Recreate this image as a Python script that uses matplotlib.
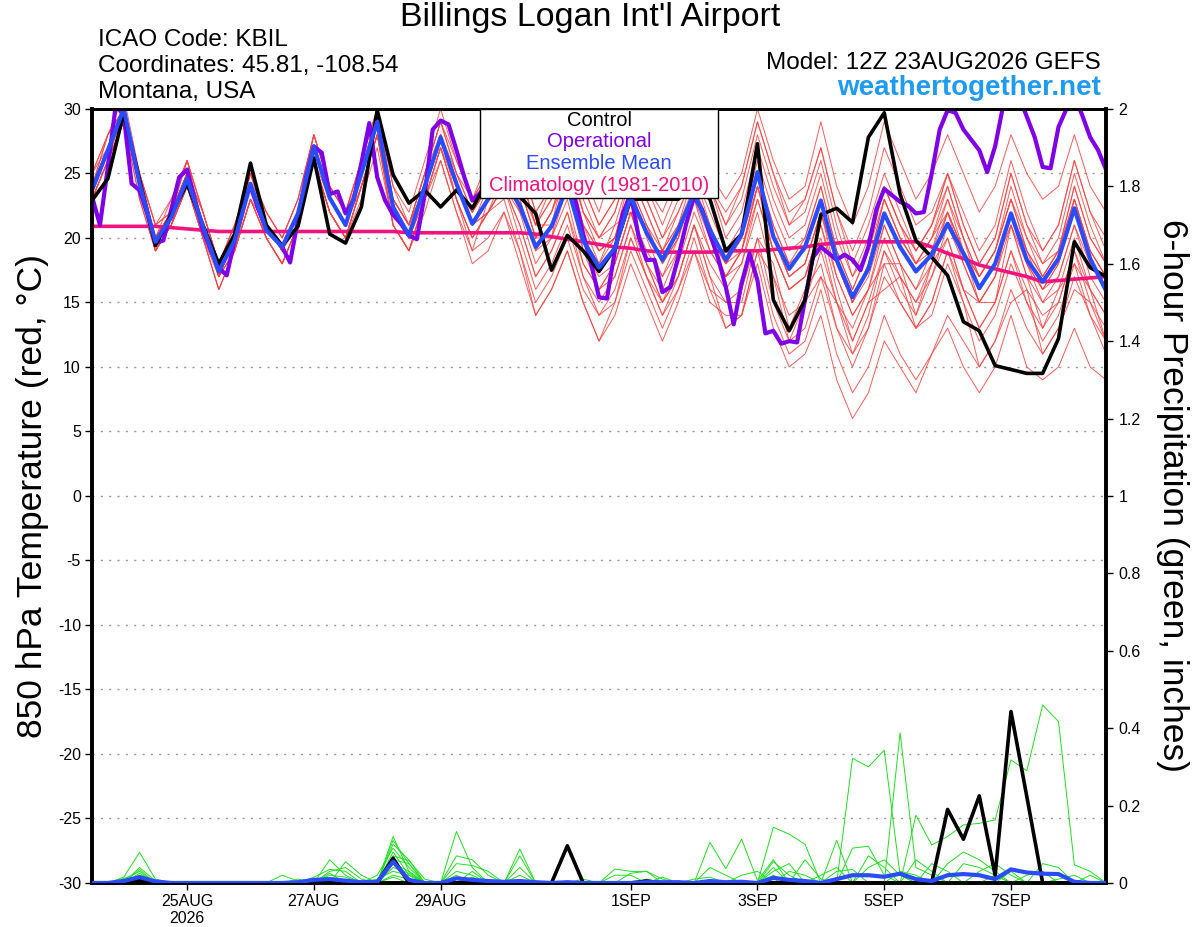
import datetime as dt
import numpy as np
import matplotlib
matplotlib.use('Agg')
import matplotlib.pyplot as plt
from matplotlib.patches import Rectangle

plt.rcParams['font.family'] = ['Liberation Sans', 'DejaVu Sans']
plt.rcParams['axes.unicode_minus'] = False

# 6-hourly steps from 12Z 23AUG2026 (65 steps), operational is 3-hourly (129 steps)
start = dt.datetime(2026, 8, 23, 12)
times = [start + dt.timedelta(hours=6 * i) for i in range(65)]
times_op = [start + dt.timedelta(hours=3 * j) for j in range(129)]

control_t = [22.9, 24.6, 29.7, 24.5, 19.4, 21.8, 24.2, 21.0, 18.0, 20.3, 25.8, 21.0, 19.4, 20.9, 26.2, 20.3,
             19.6, 22.4, 29.9, 24.9, 22.7, 23.7, 22.4, 23.7, 22.3, 24.5, 25.0, 23.2, 21.9, 17.5, 20.2, 19.0,
             17.4, 19.2, 23.0, 23.0, 23.0, 23.0, 24.0, 23.0, 19.0, 20.3, 27.3, 15.2, 12.8, 15.2, 21.8, 22.3,
             21.2, 27.8, 29.7, 23.4, 19.8, 18.5, 17.1, 13.5, 12.8, 10.1, 9.8, 9.5, 9.5, 12.2, 19.7, 17.7,
             17.0]
mean_t = [23.7, 26.8, 30.0, 24.2, 19.7, 21.6, 24.6, 20.9, 17.4, 19.8, 24.2, 20.6, 19.3, 21.9, 27.1, 23.1,
          21.0, 25.0, 29.0, 22.4, 20.2, 24.0, 27.8, 24.2, 21.1, 23.0, 24.5, 22.5, 19.3, 20.9, 24.0, 19.8,
          17.7, 19.2, 23.2, 20.4, 18.3, 20.6, 23.5, 20.6, 18.3, 20.3, 25.1, 20.1, 17.6, 19.3, 22.9, 18.3,
          15.4, 17.6, 21.9, 19.3, 17.4, 18.7, 21.1, 18.8, 16.1, 18.0, 21.9, 18.3, 16.6, 18.4, 22.3, 18.4,
          15.9]
clim_t = [20.9, 20.9, 20.9, 20.9, 20.9, 20.8, 20.7, 20.6, 20.5, 20.5, 20.5, 20.5, 20.5, 20.5, 20.5, 20.5,
          20.5, 20.5, 20.5, 20.5, 20.4, 20.4, 20.4, 20.4, 20.4, 20.4, 20.4, 20.4, 20.3, 20.1, 19.9, 19.7,
          19.5, 19.3, 19.2, 19.0, 18.9, 18.9, 18.9, 18.9, 19.0, 19.0, 19.0, 19.1, 19.2, 19.3, 19.5, 19.6,
          19.7, 19.7, 19.7, 19.7, 19.7, 19.3, 18.8, 18.4, 17.9, 17.6, 17.3, 17.0, 16.6, 16.7, 16.8, 16.9,
          17.0]
oper_t = [23.2, 21.0, 25.5, 30.3, 29.5, 24.2, 23.7, 21.8, 19.6, 19.8, 22.2, 24.7, 25.3, 22.9, 20.6, 19.0,
          17.7, 17.1, 19.8, 22.7, 24.0, 22.2, 20.7, 20.1, 19.3, 18.1, 21.4, 24.7, 27.1, 26.6, 23.4, 23.6,
          21.9, 22.9, 25.8, 28.9, 24.7, 22.9, 21.8, 21.1, 20.2, 19.9, 23.4, 28.4, 29.1, 28.8, 26.8, 24.7,
          22.9, 23.5, 24.5, 25.5, 26.5, 26.0, 25.0, 24.5, 24.0, 24.5, 25.5, 26.0, 25.0, 22.9, 20.3, 18.0,
          15.4, 15.3, 19.0, 21.9, 23.4, 20.1, 18.3, 18.3, 15.8, 16.2, 18.5, 21.1, 23.2, 22.2, 20.3, 18.5,
          16.2, 13.3, 16.5, 18.8, 16.7, 12.6, 12.8, 11.8, 12.0, 11.9, 15.2, 18.5, 19.3, 18.8, 18.3, 18.7,
          18.3, 17.5, 19.3, 22.2, 23.8, 23.3, 22.8, 22.5, 21.9, 22.0, 25.0, 28.4, 29.9, 29.7, 28.4, 27.6,
          26.8, 25.1, 27.1, 30.2, 31.0, 31.0, 29.4, 27.8, 25.5, 25.4, 28.6, 30.0, 31.0, 29.5, 27.8, 26.8,
          25.3]

members_t = [
    [24, 28, 31, 25, 20, 22, 26, 21, 17, 20, 25, 21, 19, 22, 28, 24, 22, 26, 30, 23, 21, 25, 29, 26,
     23, 25, 28, 26, 22, 24, 28, 24, 21, 23, 27, 24, 22, 25, 28, 25, 23, 25, 30, 26, 23, 24, 29, 24,
     21, 24, 29, 26, 23, 25, 28, 25, 22, 24, 28, 25, 23, 24, 28, 24, 22],
    [23, 26, 29, 23, 19, 21, 24, 20, 16, 19, 23, 20, 18, 21, 26, 22, 20, 24, 28, 21, 19, 23, 26, 22,
     19, 20, 22, 19, 15, 17, 20, 16, 14, 15, 19, 16, 13, 16, 19, 16, 13, 14, 19, 14, 11, 12, 16, 11,
     8, 10, 14, 11, 9, 11, 13, 10, 8, 10, 14, 10, 9, 10, 13, 10, 9],
    [25, 28, 30, 25, 21, 23, 26, 22, 18, 21, 25, 22, 20, 23, 28, 24, 22, 25, 29, 23, 21, 25, 28, 23,
     20, 22, 24, 21, 17, 19, 22, 17, 14, 16, 20, 17, 14, 17, 21, 18, 16, 18, 23, 19, 16, 17, 21, 16,
     12, 15, 16, 17, 13, 14, 18, 15, 10, 12, 15, 16, 11, 13, 16, 15, 12],
    [24, 27, 29, 24, 19, 21, 24, 20, 16, 19, 23, 20, 18, 21, 26, 22, 20, 24, 28, 21, 19, 23, 27, 24,
     22, 25, 28, 26, 22, 24, 27, 23, 20, 22, 26, 23, 20, 23, 27, 24, 21, 23, 28, 24, 21, 22, 26, 21,
     17, 19, 23, 20, 18, 20, 22, 19, 16, 18, 21, 18, 16, 17, 21, 18, 16],
    [23, 26, 29, 24, 20, 22, 25, 21, 17, 20, 24, 21, 19, 22, 27, 23, 21, 25, 29, 22, 20, 24, 28, 24,
     21, 23, 25, 23, 19, 21, 24, 19, 16, 18, 22, 18, 15, 17, 21, 17, 13, 14, 18, 13, 10, 11, 14, 9,
     6, 8, 12, 10, 8, 11, 14, 12, 10, 12, 16, 13, 11, 13, 17, 14, 12],
    [25, 27, 30, 24, 20, 21, 24, 21, 18, 20, 25, 22, 20, 23, 28, 24, 22, 26, 30, 24, 21, 25, 29, 25,
     23, 26, 29, 27, 23, 26, 30, 25, 22, 26, 27, 25, 23, 27, 28, 24, 22, 24, 29, 25, 21, 23, 27, 22,
     18, 21, 25, 22, 19, 21, 25, 22, 19, 21, 26, 22, 19, 21, 26, 22, 20],
    [23, 26, 30, 25, 21, 22, 24, 20, 17, 19, 23, 20, 18, 21, 26, 22, 20, 23, 27, 21, 19, 22, 26, 22,
     18, 19, 22, 18, 14, 16, 19, 15, 12, 14, 18, 15, 12, 15, 19, 15, 14, 14, 19, 17, 12, 15, 17, 15,
     11, 13, 17, 15, 13, 15, 19, 16, 13, 15, 19, 16, 14, 15, 19, 16, 14],
    [24, 27, 30, 24, 20, 23, 26, 22, 18, 21, 25, 21, 19, 22, 27, 23, 21, 25, 29, 22, 20, 24, 28, 25,
     22, 24, 27, 25, 21, 23, 27, 22, 20, 21, 25, 22, 19, 21, 25, 22, 19, 21, 26, 22, 19, 20, 24, 19,
     16, 19, 24, 21, 19, 21, 25, 21, 18, 20, 25, 21, 19, 21, 26, 22, 19],
    [24, 27, 30, 24, 19, 21, 25, 21, 17, 19, 24, 20, 18, 21, 26, 22, 20, 24, 28, 21, 19, 23, 27, 23,
     20, 22, 24, 20, 16, 18, 21, 17, 15, 17, 21, 18, 16, 19, 23, 20, 18, 20, 25, 21, 18, 19, 23, 18,
     15, 18, 23, 20, 18, 20, 24, 20, 17, 19, 24, 20, 17, 19, 23, 19, 17],
    [24, 27, 30, 25, 21, 22, 25, 22, 18, 20, 24, 21, 19, 22, 27, 23, 21, 25, 29, 23, 21, 24, 28, 24,
     21, 23, 26, 24, 20, 22, 25, 21, 18, 20, 24, 21, 18, 20, 24, 20, 17, 19, 24, 19, 16, 17, 20, 15,
     13, 16, 18, 18, 14, 18, 20, 16, 15, 15, 21, 17, 13, 16, 18, 16, 12],
    [23, 26, 29, 23, 19, 21, 24, 20, 16, 19, 23, 21, 19, 22, 26, 23, 21, 24, 28, 22, 20, 24, 28, 24,
     21, 24, 27, 25, 21, 24, 28, 24, 21, 23, 27, 24, 21, 24, 28, 24, 20, 22, 27, 23, 20, 21, 25, 20,
     17, 20, 24, 21, 18, 20, 23, 19, 15, 17, 21, 17, 15, 16, 20, 16, 14],
    [24, 27, 30, 24, 20, 22, 25, 21, 17, 20, 24, 21, 19, 22, 27, 23, 21, 25, 29, 23, 21, 24, 28, 24,
     21, 23, 26, 23, 19, 20, 23, 18, 16, 17, 21, 17, 14, 16, 20, 16, 15, 15, 20, 18, 13, 16, 18, 13,
     11, 14, 19, 17, 15, 18, 22, 19, 17, 19, 23, 19, 16, 18, 22, 18, 16],
    [24, 28, 30, 24, 20, 22, 26, 22, 18, 21, 25, 22, 20, 23, 28, 24, 22, 26, 30, 24, 22, 26, 30, 26,
     23, 25, 28, 25, 21, 23, 26, 21, 19, 20, 24, 20, 17, 19, 23, 19, 17, 19, 23, 19, 16, 17, 21, 17,
     14, 16, 20, 17, 15, 17, 20, 16, 13, 15, 19, 15, 12, 14, 18, 14, 11],
    [24, 27, 29, 24, 20, 21, 24, 21, 17, 20, 24, 21, 19, 21, 26, 22, 20, 24, 28, 22, 20, 23, 27, 23,
     20, 22, 25, 22, 18, 20, 24, 20, 18, 21, 22, 21, 19, 22, 25, 24, 21, 24, 29, 25, 22, 23, 27, 22,
     19, 22, 27, 24, 21, 22, 25, 21, 18, 20, 25, 21, 18, 20, 25, 21, 18],
    [24, 27, 30, 24, 20, 22, 25, 21, 17, 20, 24, 21, 19, 22, 27, 23, 21, 25, 29, 22, 20, 24, 28, 24,
     21, 22, 24, 21, 17, 19, 22, 18, 16, 18, 22, 19, 17, 20, 24, 21, 18, 20, 24, 20, 17, 18, 22, 17,
     14, 16, 21, 18, 16, 19, 23, 20, 17, 19, 23, 19, 17, 19, 24, 20, 18],
    [24, 27, 30, 25, 20, 22, 25, 21, 17, 20, 24, 21, 19, 22, 27, 23, 21, 25, 29, 22, 20, 24, 28, 24,
     22, 24, 28, 24, 21, 21, 26, 19, 17, 18, 22, 18, 15, 17, 21, 17, 15, 16, 20, 15, 12, 13, 17, 13,
     10, 13, 18, 15, 13, 15, 19, 15, 12, 14, 18, 15, 13, 15, 19, 15, 13],
    [24, 27, 30, 24, 20, 22, 25, 21, 17, 20, 24, 21, 19, 22, 27, 23, 21, 25, 29, 22, 20, 24, 28, 24,
     22, 24, 27, 24, 20, 22, 26, 22, 20, 22, 26, 23, 20, 22, 25, 21, 18, 19, 24, 20, 17, 18, 22, 18,
     15, 18, 23, 20, 18, 19, 22, 18, 15, 17, 22, 18, 16, 18, 23, 19, 17],
    [24, 27, 30, 24, 20, 22, 25, 21, 17, 20, 24, 21, 19, 22, 27, 23, 21, 25, 29, 22, 20, 24, 28, 24,
     21, 22, 23, 19, 14, 16, 19, 15, 12, 15, 20, 17, 15, 18, 22, 19, 17, 19, 24, 20, 17, 18, 22, 18,
     15, 17, 21, 18, 16, 18, 22, 19, 17, 19, 23, 20, 18, 19, 23, 19, 17],
    [25, 28, 30, 24, 20, 22, 25, 22, 18, 20, 24, 21, 19, 22, 27, 23, 21, 25, 30, 23, 21, 25, 29, 25,
     22, 24, 27, 24, 20, 22, 26, 21, 19, 20, 24, 21, 18, 20, 24, 20, 18, 20, 25, 21, 18, 20, 24, 19,
     16, 19, 24, 21, 19, 21, 24, 20, 16, 18, 22, 18, 15, 17, 21, 17, 15],
    [23, 26, 30, 24, 19, 21, 24, 21, 17, 19, 23, 20, 18, 21, 26, 22, 20, 24, 28, 22, 20, 23, 27, 23,
     19, 23, 24, 22, 20, 20, 26, 22, 19, 20, 25, 22, 19, 21, 24, 20, 17, 18, 22, 17, 14, 15, 19, 15,
     12, 15, 19, 16, 14, 17, 21, 18, 15, 17, 22, 19, 17, 19, 24, 20, 18],
]

# 6-hour precipitation (inches)
control_p = [0, 0, 0, 0.008, 0, 0, 0, 0, 0, 0, 0, 0, 0, 0, 0, 0, 0, 0, 0, 0.064, 0, 0, 0, 0, 0, 0, 0, 0,
             0, 0, 0.096, 0, 0, 0, 0, 0.005, 0, 0, 0, 0, 0, 0, 0, 0, 0, 0, 0, 0, 0, 0, 0, 0, 0, 0.002,
             0.19, 0.113, 0.225, 0.02, 0.443, 0.223, 0, 0, 0, 0, 0]
mean_p = [0, 0, 0.005, 0.015, 0.004, 0, 0, 0, 0, 0, 0, 0, 0, 0.002, 0.008, 0.01, 0.006, 0.002, 0.003,
          0.055, 0.008, 0, 0, 0.012, 0.008, 0.005, 0.003, 0.005, 0.002, 0, 0.002, 0, 0, 0, 0, 0.002,
          0.002, 0.002, 0, 0.005, 0.002, 0.003, 0, 0.013, 0.008, 0.005, 0, 0.01, 0.02, 0.02, 0.016,
          0.024, 0.01, 0.005, 0.02, 0.023, 0.02, 0.01, 0.035, 0.027, 0.024, 0.023, 0.003, 0, 0]
# ensemble members: {step index: amount}, zero elsewhere
members_p = [
    {2: 0.015, 3: 0.079, 4: 0.01, 19: 0.12, 20: 0.03, 23: 0.133, 24: 0.04, 39: 0.105, 40: 0.037,
     41: 0.113, 42: 0.006, 43: 0.06, 48: 0.322, 49: 0.30, 50: 0.343, 51: 0.02, 57: 0.02},
    {3: 0.04, 4: 0.005, 15: 0.06, 16: 0.02, 19: 0.11, 20: 0.05, 27: 0.088, 43: 0.144, 44: 0.126,
     45: 0.1, 51: 0.388, 52: 0.04, 53: 0.02},
    {3: 0.035, 16: 0.055, 17: 0.02, 19: 0.10, 20: 0.06, 23: 0.07, 24: 0.06, 25: 0.02, 27: 0.07,
     47: 0.11, 52: 0.175, 53: 0.098, 54: 0.12, 55: 0.15, 56: 0.154, 57: 0.163, 58: 0.318, 59: 0.29,
     60: 0.46, 61: 0.417, 62: 0.047, 63: 0.03},
    {2: 0.01, 3: 0.03, 14: 0.015, 15: 0.035, 16: 0.03, 18: 0.02, 19: 0.09, 20: 0.04, 23: 0.05,
     24: 0.045, 25: 0.03, 33: 0.036, 34: 0.03, 35: 0.03, 36: 0.01, 43: 0.055, 44: 0.02, 48: 0.09,
     49: 0.095, 50: 0.02, 55: 0.05, 56: 0.04, 57: 0.02},
    {3: 0.025, 15: 0.03, 16: 0.04, 17: 0.01, 19: 0.08, 20: 0.02, 24: 0.03, 34: 0.025, 35: 0.03,
     43: 0.04, 47: 0.03, 48: 0.035, 60: 0.05, 61: 0.04},
    {3: 0.02, 12: 0.02, 13: 0.005, 19: 0.07, 20: 0.058, 21: 0.01, 23: 0.03, 24: 0.02, 33: 0.02,
     34: 0.02, 45: 0.06, 46: 0.01, 49: 0.04, 50: 0.06, 51: 0.02, 63: 0.02},
    {2: 0.012, 3: 0.015, 15: 0.025, 19: 0.06, 20: 0.05, 27: 0.04, 31: 0.01, 35: 0.01, 39: 0.04,
     40: 0.02, 52: 0.06, 53: 0.03, 58: 0.03},
    {3: 0.01, 13: 0.01, 19: 0.05, 20: 0.03, 24: 0.015, 43: 0.03, 44: 0.05, 54: 0.05, 55: 0.08,
     56: 0.06, 57: 0.03},
    {15: 0.02, 16: 0.015, 19: 0.04, 20: 0.025, 37: 0.005, 41: 0.02, 42: 0.03, 49: 0.07, 50: 0.04},
    {18: 0.01, 19: 0.03, 20: 0.02, 23: 0.02, 44: 0.03, 45: 0.02, 53: 0.05, 54: 0.03, 59: 0.02,
     60: 0.03},
    {19: 0.02, 20: 0.01, 27: 0.02, 36: 0.015, 46: 0.02, 47: 0.04, 56: 0.03, 57: 0.05, 58: 0.02},
    {3: 0.02, 19: 0.015, 24: 0.01, 38: 0.01, 39: 0.015, 43: 0.02, 51: 0.03, 52: 0.02, 61: 0.01,
     62: 0.02},
]

tick_dates = [dt.datetime(2026, 8, 25), dt.datetime(2026, 8, 27), dt.datetime(2026, 8, 29),
              dt.datetime(2026, 9, 1), dt.datetime(2026, 9, 3), dt.datetime(2026, 9, 5),
              dt.datetime(2026, 9, 7)]
tick_labels = ['25AUG\n2026', '27AUG', '29AUG', '1SEP', '3SEP', '5SEP', '7SEP']

RED = '#ff4040'
GREEN = '#22dd22'
PURPLE = '#7f00e6'
BLUE = '#2a4bff'
PINK = '#f0147f'

fig = plt.figure(figsize=(12, 9.27), dpi=100)
ax = fig.add_axes([0.0767, 0.0475, 0.845, 0.835])
ax2 = ax.twinx()

for m in members_t:
    ax.plot(times, m, color=RED, lw=0.7, alpha=0.85, zorder=2)
ax.plot(times, clim_t, color=PINK, lw=2.6, zorder=3)
ax.plot(times_op, oper_t, color=PURPLE, lw=3, zorder=4)
ax.plot(times, control_t, color='black', lw=2.6, zorder=5)
ax.plot(times, mean_t, color=BLUE, lw=3, zorder=6)

for d in members_p:
    vals = np.zeros(len(times))
    for k, v in d.items():
        vals[k] = v
    ax2.plot(times, vals, color=GREEN, lw=0.7, zorder=2)
ax2.plot(times, control_p, color='black', lw=2.6, zorder=5)
ax2.plot(times, mean_p, color=BLUE, lw=3, zorder=6)

ax.set_xlim(times[0], times[-1])
ax.set_ylim(-30, 30)
ax.set_yticks(range(-30, 31, 5))
ax.yaxis.grid(True, linestyle=(0, (1.5, 4.5)), color='#999999', lw=1)
ax.set_xticks(tick_dates)
ax.set_xticklabels(tick_labels)
ax2.set_ylim(0, 2)
ax2.set_yticks([0, 0.2, 0.4, 0.6, 0.8, 1, 1.2, 1.4, 1.6, 1.8, 2])
ax2.set_yticklabels(['0', '0.2', '0.4', '0.6', '0.8', '1', '1.2', '1.4', '1.6', '1.8', '2'])

ax.tick_params(axis='both', direction='out', length=5, width=1, labelsize=11.5, pad=3)
ax2.tick_params(axis='y', direction='out', length=5, width=1, labelsize=11.5, pad=4)
for a in (ax, ax2):
    for s in ('left', 'right', 'bottom'):
        a.spines[s].set_linewidth(2.6)
    a.spines['top'].set_linewidth(2)

# legend box
ax2.add_patch(Rectangle((0.3826, 0.885), 0.2348, 0.115, transform=ax2.transAxes,
                        facecolor='white', edgecolor='black', lw=1, zorder=20))
for txt, col, yy in [('Control', 'black', 0.9845), ('Operational', PURPLE, 0.9574),
                     ('Ensemble Mean', BLUE, 0.9289), ('Climatology (1981-2010)', PINK, 0.9005)]:
    ax2.text(0.5, yy, txt, color=col, fontsize=14.5, ha='center', va='center',
             transform=ax2.transAxes, zorder=21)

fig.text(0.4917, 0.9806, "Billings Logan Int'l Airport", fontsize=24.5, ha='center', va='center')
fig.text(0.0817, 0.9569, 'ICAO Code: KBIL', fontsize=17.5, ha='left', va='center')
fig.text(0.0817, 0.9288, 'Coordinates: 45.81, -108.54', fontsize=17.5, ha='left', va='center')
fig.text(0.0817, 0.9008, 'Montana, USA', fontsize=17.5, ha='left', va='center')
fig.text(0.9175, 0.932, 'Model: 12Z 23AUG2026 GEFS', fontsize=17.5, ha='right', va='center')
fig.text(0.9175, 0.905, 'weathertogether.net', fontsize=20, fontweight='bold',
         color='#1e9bf0', ha='right', va='center')
fig.text(0.0275, 0.465, '850 hPa Temperature (red, °C)', fontsize=25.5, rotation=90,
         ha='center', va='center')
fig.text(0.9767, 0.465, '6-hour Precipitation (green, inches)', fontsize=25.5, rotation=270,
         ha='center', va='center')

fig.savefig('out.png', dpi=100)
